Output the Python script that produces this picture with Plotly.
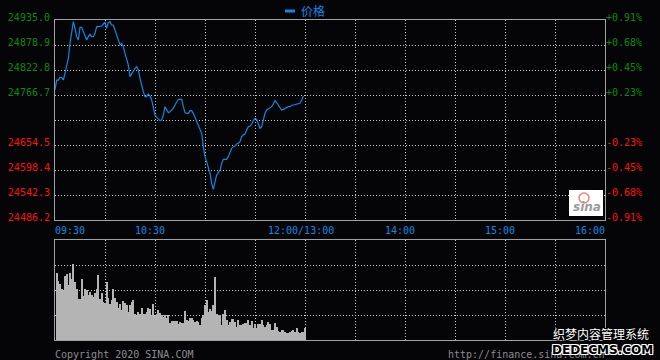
import plotly.graph_objects as go

# ---------------- data ----------------
# minute index since 09:30 on a compressed trading-time axis (lunch break removed)
price_minutes = list(range(150))
prices = [
    24777.9, 24800.3, 24800.3, 24806.3, 24806.3, 24800.3, 24815.3, 24830.3, 24849.0, 24882.6,
    24908.8, 24931.3, 24916.3, 24897.6, 24890.1, 24918.5, 24918.5, 24908.8, 24897.6, 24890.1,
    24897.6, 24902.9, 24897.6, 24897.6, 24905.1, 24920.0, 24920.0, 24920.0, 24921.5, 24926.0,
    24929.8, 24916.3, 24929.0, 24931.3, 24923.8, 24923.8, 24912.6, 24903.6, 24893.9, 24878.9,
    24882.6, 24875.2, 24860.2, 24849.0, 24834.0, 24807.8, 24815.3, 24819.1, 24826.5, 24830.3,
    24822.8, 24804.1, 24785.4, 24774.2, 24763.0, 24763.0, 24769.0, 24764.5, 24755.5, 24740.5,
    24721.8, 24716.6, 24712.1, 24709.1, 24710.6, 24721.8, 24740.5, 24734.5, 24727.1, 24729.3,
    24733.0, 24736.8, 24744.3, 24751.7, 24757.0, 24757.0, 24757.0, 24740.5, 24727.1, 24725.6,
    24725.6, 24731.5, 24731.5, 24725.6, 24716.6, 24710.6, 24699.4, 24691.9, 24680.7, 24650.8,
    24628.3, 24617.1, 24605.9, 24590.9, 24568.5, 24555.0, 24572.2, 24587.2, 24592.4, 24598.4,
    24613.4, 24622.3, 24622.3, 24622.3, 24628.3, 24639.5, 24647.0, 24650.8, 24652.2, 24656.7,
    24658.2, 24662.0, 24673.2, 24677.0, 24679.2, 24688.2, 24695.6, 24697.1, 24701.6, 24709.1,
    24714.3, 24712.1, 24701.6, 24691.9, 24695.6, 24714.3, 24725.6, 24733.0, 24736.0, 24739.0,
    24740.5, 24746.5, 24754.0, 24749.5, 24744.3, 24740.5, 24733.0, 24734.5, 24736.8, 24739.0,
    24740.5, 24740.5, 24743.5, 24744.3, 24745.0, 24745.8, 24746.5, 24748.0, 24755.5, 24764.5,
]

volume_minutes = list(range(1, 151))
volumes = [
    67.3, 59, 56, 50.7, 50, 64, 66, 55, 67.3, 61,
    76, 58, 50.7, 41, 41, 60.7, 44, 50.7, 50, 45,
    48, 45, 43, 46.7, 50.7, 65, 41, 47, 38, 37.3,
    58, 41.7, 36, 40, 50.7, 42, 38, 32, 35.7, 30,
    39, 37, 35, 28, 35, 38, 40, 26, 24, 28,
    26, 32, 26, 26, 28, 32, 31, 24, 36, 24,
    26, 30, 27, 25, 23, 25, 21.7, 25, 16.7, 19,
    19, 19, 19, 16, 18, 17, 17, 29, 20, 19,
    22, 22, 20, 18, 19, 18, 15, 22, 25, 35,
    40, 28, 31, 29, 35, 63, 26, 25, 25, 15,
    26, 30, 20, 15, 18, 21, 21, 18, 13, 20,
    15, 15, 16, 17, 17, 20, 15, 19, 12, 16,
    12, 16, 16, 20, 15, 13, 15, 18, 16, 10,
    10, 17, 13, 9, 8, 10, 10, 8, 7, 7,
    8, 9, 10, 8, 12, 8, 7, 8, 8, 12,
]

prev_close = 24710.6
price_ticks = [24486.2, 24542.3, 24598.4, 24654.5, 24710.6, 24766.7, 24822.8, 24878.9, 24935.0]
price_labels = ["24486.2", "24542.3", "24598.4", "24654.5", "", "24766.7", "24822.8", "24878.9", "24935.0"]
pct_labels = ["-0.91%", "-0.68%", "-0.45%", "-0.23%", "", "+0.23%", "+0.45%", "+0.68%", "+0.91%"]
time_ticks = [0, 60, 150, 210, 270, 330]
time_labels = ["09:30", "10:30", "12:00/13:00", "14:00", "15:00", "16:00"]
legend_name = "价格"

# ---------------- style ----------------
BG = "#050508"
GRID = "#c8c8c8"
BORDER = "#a0a0a0"
BLUE = "#1088e0"
GREEN = "#0a8a0a"
RED = "#ff1010"
MONO = "DejaVu Sans Mono"


def colored(labels, vals):
    out = []
    for lab, v in zip(labels, vals):
        if lab == "":
            out.append("")
        elif v > prev_close:
            out.append(f"<span style='color:{GREEN}'>{lab}</span>")
        else:
            out.append(f"<span style='color:{RED}'>{lab}</span>")
    return out


fig = go.Figure()
fig.add_trace(go.Scatter(x=price_minutes, y=prices, mode="lines", name=legend_name,
                         line=dict(color=BLUE, width=1.2), xaxis="x", yaxis="y",
                         hoverinfo="skip"))
# carrier for the percentage axis
fig.add_trace(go.Scatter(x=price_minutes, y=prices, mode="lines", showlegend=False,
                         line=dict(color="rgba(0,0,0,0)", width=0), xaxis="x", yaxis="y3",
                         hoverinfo="skip"))
fig.add_trace(go.Bar(x=volume_minutes, y=volumes, marker=dict(color="#b4b4b4", line=dict(width=0)),
                     width=0.5, xaxis="x2", yaxis="y2", showlegend=False, hoverinfo="skip"))

grid_x = list(range(30, 330, 30))
axis_common = dict(showline=True, linecolor=BORDER, linewidth=1, mirror=True, automargin=False,
                   zeroline=False, gridcolor=GRID, griddash="1px,2px", gridwidth=1)

fig.update_layout(
    width=660, height=360,
    margin=dict(l=55, r=55, t=20, b=20, autoexpand=False),
    paper_bgcolor=BG, plot_bgcolor=BG,
    showlegend=False,
    bargap=0,
    xaxis=dict(domain=[0, 1], range=[0, 330], tickvals=grid_x, showticklabels=False,
               ticks="", anchor="y", **axis_common),
    yaxis=dict(domain=[0.375, 1], range=[price_ticks[0], price_ticks[-1]],
               tickvals=price_ticks, ticktext=colored(price_labels, price_ticks),
               ticks="", ticklabelshift=-3, ticklabelstandoff=2,
               tickfont=dict(family=MONO, size=10, color=GREEN), anchor="x", **axis_common),
    yaxis3=dict(overlaying="y", side="right", range=[price_ticks[0], price_ticks[-1]],
                tickvals=price_ticks, ticktext=colored(pct_labels, price_ticks), automargin=False,
                ticks="", ticklabelshift=-3, ticklabelstandoff=0, showgrid=False, zeroline=False,
                showline=False, tickfont=dict(family=MONO, size=10, color=GREEN), anchor="x"),
    xaxis2=dict(domain=[0, 1], range=[0, 330], tickvals=grid_x, showticklabels=False,
                ticks="", anchor="y2", **axis_common),
    yaxis2=dict(domain=[0, 0.3125], range=[0, 100], tickvals=[25, 50, 75], showticklabels=False,
                ticks="", anchor="x2", **axis_common),
)

annotations = []
anchors = ["left", "center", "center", "center", "center", "right"]
shifts = [-2, -5, -4, -5, -5, 2]
for t, lab, anc, sh in zip(time_ticks, time_labels, anchors, shifts):
    annotations.append(dict(x=t, xref="x", y=0.34375, yref="paper", text=lab, showarrow=False,
                            xanchor=anc, yanchor="middle", xshift=sh,
                            font=dict(family=MONO, size=10, color=BLUE)))
# legend text
annotations.append(dict(x=(301 - 55) / 550, xref="paper", y=(340 - 10) / 320, yref="paper",
                        text=legend_name, showarrow=False, xanchor="left", yanchor="middle",
                        xshift=-2,
                        font=dict(family="Noto Sans CJK SC", size=12, color=BLUE)))
# footer
annotations.append(dict(x=0, xref="paper", y=(340 - 354) / 320, yref="paper",
                        text="Copyright 2020 SINA.COM", showarrow=False, xanchor="left", xshift=-2,
                        yanchor="middle", font=dict(family=MONO, size=10, color="#8c8c8c")))
annotations.append(dict(x=1, xref="paper", y=(340 - 354) / 320, yref="paper",
                        text="http://finance.sina.com.cn", showarrow=False, xanchor="right", xshift=2,
                        yanchor="middle", font=dict(family=MONO, size=10, color="#8c8c8c")))
# sina logo text
annotations.append(dict(x=(587 - 55) / 550, xref="paper", y=(340 - 207) / 320, yref="paper",
                        text="<b><i>sina</i></b>", showarrow=False, xanchor="center",
                        yanchor="middle", font=dict(family="DejaVu Sans", size=12, color="#9a9a9a")))
# watermark
annotations.append(dict(x=(601 - 55) / 550, xref="paper", y=(340 - 333) / 320, yref="paper",
                        text="织梦内容管理系统", showarrow=False, xanchor="center", yanchor="middle",
                        font=dict(family="Noto Sans CJK SC", size=12, color="#ffffff",
                                  shadow="1px 1px 0 #000, -1px -1px 0 #000, 1px -1px 0 #000, -1px 1px 0 #000")))
annotations.append(dict(x=(602 - 55) / 550, xref="paper", y=(340 - 350) / 320, yref="paper",
                        text="<b>DEDECMS.COM</b>", showarrow=False, xanchor="center", yanchor="middle",
                        font=dict(family="DejaVu Sans", size=12, color="#000000",
                                  shadow="1px 1px 0 #fff, -1px -1px 0 #fff, 1px -1px 0 #fff, -1px 1px 0 #fff")))
fig.update_layout(annotations=annotations)

shapes = [
    dict(type="line", xref="paper", yref="paper", x0=(285 - 55) / 550, x1=(295 - 55) / 550,
         y0=(340 - 11) / 320, y1=(340 - 11) / 320, line=dict(color=BLUE, width=3)),
    dict(type="rect", xref="paper", yref="paper", x0=(569 - 55) / 550, x1=(603 - 55) / 550,
         y0=(340 - 216) / 320, y1=(340 - 190) / 320, fillcolor="#ffffff", line=dict(width=0),
         layer="above"),
    dict(type="circle", xref="paper", yref="paper", x0=(579 - 55) / 550, x1=(589 - 55) / 550,
         y0=(340 - 203) / 320, y1=(340 - 193) / 320, line=dict(color="#f08080", width=1.5),
         layer="above"),
]
fig.update_layout(shapes=shapes)

fig.write_html("out.html")
